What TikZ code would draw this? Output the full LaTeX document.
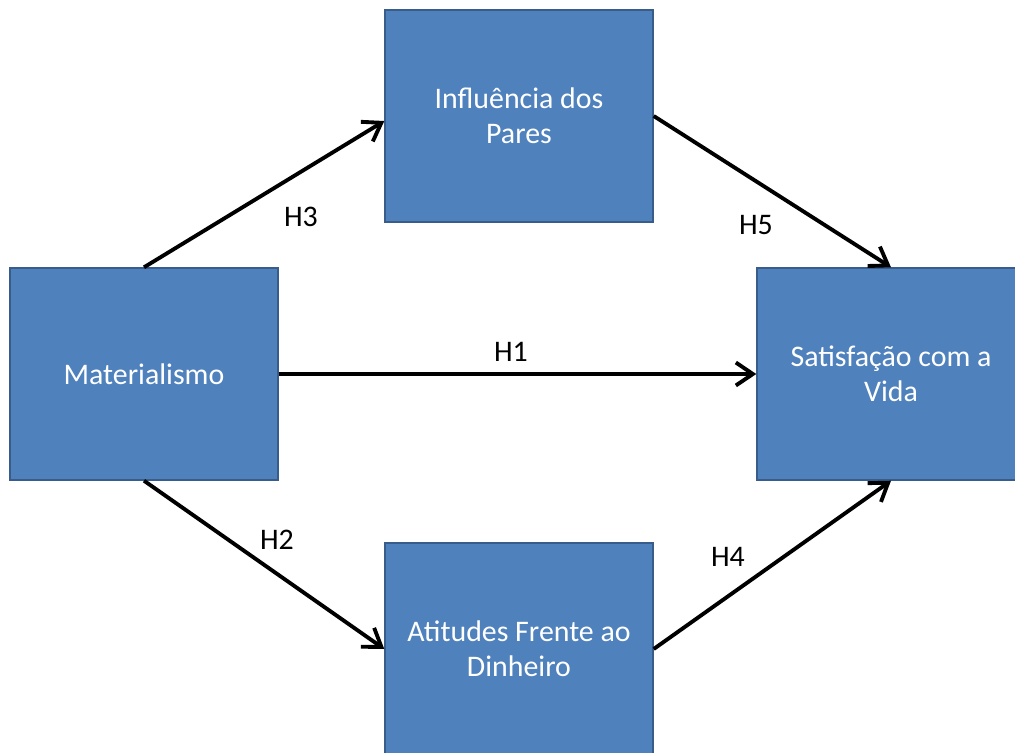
\documentclass[tikz,border=0pt]{standalone}
\usepackage{fontspec}
\setmainfont{Carlito}
\usepackage{tikz}
\usetikzlibrary{arrows.meta, positioning}
\definecolor{boxblue}{RGB}{79,129,189}
\definecolor{boxedge}{RGB}{56,93,138}
\tikzset{
  block/.style={rectangle, draw=boxedge, fill=boxblue, text=white,
    align=center, minimum width=5.36cm, minimum height=4.24cm,
    font=\fontsize{17}{19.8}\selectfont, line width=0.8pt},
  hlabel/.style={font=\fontsize{17}{19.8}\selectfont, text=black},
  arrow/.style={-{Straight Barb[length=3.4mm, width=4.6mm]}, line width=2.2pt, color=black}
}

\begin{document}
\begin{tikzpicture}
  \clip (0,0) rectangle (20.3,-15.04);
  \fill[white] (0,0) rectangle (20.3,-15.04);

  % Constructs
  \node[block] (mat) at (2.88,-7.48) {Materialismo};
  \node[block] (inf) at (10.38,-2.32) {Influência dos\\Pares};
  \node[block] (sat) at (17.82,-7.48) {Satisfação com a\\Vida};
  \node[block] (att) at (10.38,-12.98) {Atitudes Frente ao\\Dinheiro};

  % Hypotheses
  \draw[arrow] (mat.east) -- (sat.west);
  \draw[arrow] (mat.south) -- (att.west);
  \draw[arrow] (mat.north) -- ([yshift=-0.1cm]inf.west);
  \draw[arrow] (att.east) -- (sat.south);
  \draw[arrow] (inf.east) -- (sat.north);

  \node[hlabel] (h1) at (10.22,-7.04) {H1};
  \node[hlabel] (h2) at (5.54,-10.8) {H2};
  \node[hlabel] (h3) at (6.02,-4.34) {H3};
  \node[hlabel] (h4) at (14.56,-11.14) {H4};
  \node[hlabel] (h5) at (15.12,-4.5) {H5};
\end{tikzpicture}
\end{document}
